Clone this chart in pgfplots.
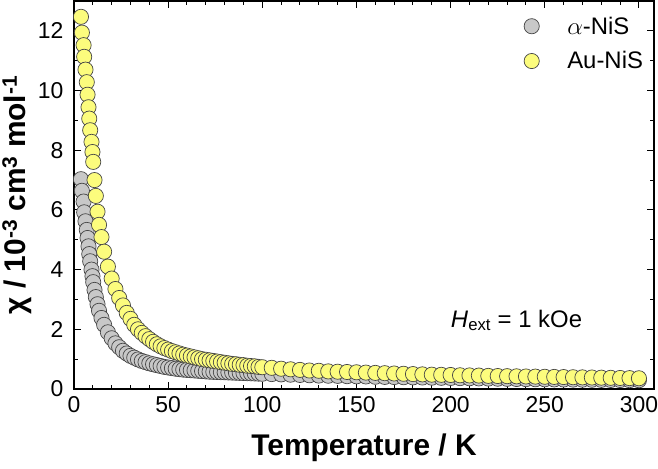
\documentclass[border=0pt]{standalone}
\usepackage{fontspec}
\setmainfont{Liberation Sans}
\usepackage{pgfplots}
\pgfplotsset{compat=1.18}

\definecolor{ptgray}{RGB}{200,200,200}
\definecolor{ptyellow}{RGB}{252,252,125}
\definecolor{ptedge}{RGB}{70,70,70}

% alpha-NiS
\pgfplotstableread{
T chi
3.7 7.03
4.2 6.64
5.1 6.28
5.4 5.92
6.1 5.62
6.8 5.33
7.2 5.06
7.7 4.78
8.1 4.52
8.6 4.28
9.3 4.00
9.8 3.78
10.2 3.58
10.9 3.32
11.6 3.08
12.5 2.84
13.3 2.62
14.6 2.38
16 2.15
18 1.90
20 1.70
22 1.53
24 1.40
26 1.28
28 1.19
30 1.11
32 1.05
34 0.99
36 0.94
38 0.90
40 0.86
42 0.83
44 0.80
46 0.77
48 0.74
50 0.72
52 0.70
54 0.68
56 0.665
58 0.65
60 0.64
62 0.63
64 0.62
66 0.61
68 0.60
70 0.59
72 0.58
74 0.575
76 0.57
78 0.565
80 0.56
82 0.555
84 0.55
86 0.545
88 0.54
90 0.535
92 0.53
94 0.525
96 0.52
98 0.515
100 0.51
105 0.50
110 0.49
115 0.48
120 0.47
125 0.46
130 0.45
135 0.445
140 0.44
145 0.43
150 0.425
155 0.42
160 0.41
165 0.405
170 0.40
175 0.395
180 0.39
185 0.385
190 0.38
195 0.375
200 0.37
205 0.365
210 0.36
215 0.355
220 0.35
225 0.345
230 0.34
235 0.335
240 0.33
245 0.327
250 0.324
255 0.321
260 0.318
265 0.315
270 0.312
275 0.309
280 0.306
285 0.303
290 0.300
295 0.297
300 0.294
}\nisdata

% Au-NiS
\pgfplotstableread{
T chi
3.7 12.47
4.2 11.94
5.1 11.52
5.4 11.13
6.1 10.70
6.8 10.28
7.2 9.86
7.7 9.44
8.1 9.06
8.6 8.67
9.3 8.28
9.8 7.94
10.2 7.61
10.9 7.00
11.6 6.47
12.5 5.94
13.3 5.50
14.6 5.09
16 4.60
18 4.10
20 3.70
22 3.35
24 3.05
26 2.80
28 2.55
30 2.35
32 2.15
34 2.00
36 1.88
38 1.77
40 1.67
42 1.58
44 1.50
46 1.43
48 1.37
50 1.32
52 1.27
54 1.23
56 1.19
58 1.15
60 1.12
62 1.09
64 1.06
66 1.03
68 1.00
70 0.98
72 0.96
74 0.94
76 0.92
78 0.90
80 0.88
82 0.86
84 0.84
86 0.83
88 0.81
90 0.80
92 0.78
94 0.77
96 0.76
98 0.74
100 0.73
105 0.71
110 0.68
115 0.66
120 0.64
125 0.62
130 0.61
135 0.59
140 0.58
145 0.57
150 0.56
155 0.55
160 0.54
165 0.53
170 0.52
175 0.51
180 0.50
185 0.49
190 0.48
195 0.475
200 0.47
205 0.46
210 0.455
215 0.45
220 0.44
225 0.435
230 0.43
235 0.425
240 0.42
245 0.415
250 0.41
255 0.405
260 0.40
265 0.395
270 0.39
275 0.385
280 0.38
285 0.375
290 0.37
295 0.365
300 0.36
}\ausdata

\begin{document}
\begin{tikzpicture}
\begin{axis}[
    scale only axis,
    width=580bp, height=388bp,
    xmin=0, xmax=308, ymin=0, ymax=13,
    xtick={0,50,...,300}, ytick={0,2,...,12},
    minor x tick num=4, minor y tick num=1,
    tick align=inside,
    major tick length=7bp, minor tick length=4bp,
    axis line style={line width=1.3bp},
    every tick/.style={black, line width=1bp},
    /pgf/number format/assume math mode=true,
    tick label style={font=\fontsize{23}{25}\selectfont},
    xticklabel style={yshift=-4bp},
    yticklabel style={xshift=-7bp},
    xlabel={\textbf{Temperature / K}},
    ylabel={\textbf{χ / 10\textsuperscript{-3} cm\textsuperscript{3} mol\textsuperscript{-1}}},
    label style={font=\fontsize{30}{32}\selectfont},
    xlabel style={yshift=-14bp},
    ylabel style={yshift=-1bp},
    legend style={draw=none, fill=none, at={(0.99,0.97)}, anchor=north east,
        font=\fontsize{24}{26}\selectfont, row sep=12bp},
    legend cell align=left,
    clip=false,
]
\coordinate (ll) at (rel axis cs:0,0);
\coordinate (ur) at (rel axis cs:1,1);
\addplot[only marks, mark=*, mark size=7.6bp,
    mark options={fill=ptgray, draw=ptedge, line width=0.7bp}]
    table[x=T, y=chi] {\nisdata};
\addlegendentry{\hspace{26bp}$\alpha$-NiS}
\addplot[only marks, mark=*, mark size=7.6bp,
    mark options={fill=ptyellow, draw=ptedge, line width=0.7bp}]
    table[x=T, y=chi] {\ausdata};
\addlegendentry{\hspace{26bp}Au-NiS}
\node[font=\fontsize{24}{26}\selectfont] at (axis cs:235,2.3) {\textit{H}\textsubscript{ext} = 1 kOe};
\end{axis}
\pgfresetboundingbox
\path[use as bounding box] ([xshift=-74bp,yshift=-80bp]ll) rectangle ([xshift=4bp,yshift=1bp]ur);
\end{tikzpicture}
\end{document}
